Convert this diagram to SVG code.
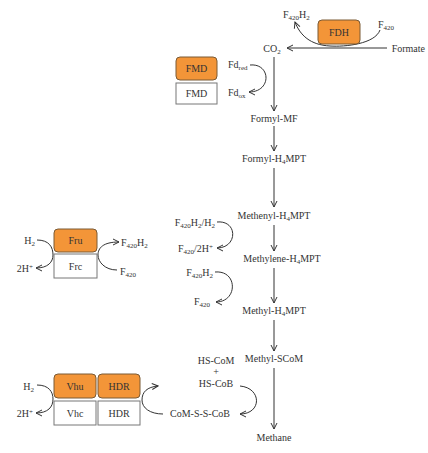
<svg xmlns="http://www.w3.org/2000/svg" width="428" height="453" viewBox="0 0 428 453">
<style>
text{font-family:"Liberation Serif","Times New Roman",serif;font-size:10px;fill:#333}
.s{font-size:7px}
.mid{text-anchor:middle}
.end{text-anchor:end}
.c{fill:none;stroke:#333;stroke-width:1}
.or{fill:#F39538;stroke:#7a5a35;stroke-width:1}
.wh{fill:#fff;stroke:#777;stroke-width:1}
</style>
<defs>
<marker id="a" viewBox="0 0 8 8" refX="7" refY="4" markerWidth="8" markerHeight="8" markerUnits="userSpaceOnUse" orient="auto">
<path d="M1,1 L7,4 L1,7" fill="none" stroke="#333" stroke-width="1"/>
</marker>
</defs>

<g id="connectors">
<line class="c" x1="274" y1="57" x2="274" y2="111" marker-end="url(#a)"/>
<line class="c" x1="274" y1="126" x2="274" y2="151" marker-end="url(#a)"/>
<line class="c" x1="274" y1="168" x2="274" y2="207" marker-end="url(#a)"/>
<line class="c" x1="274" y1="225" x2="274" y2="251" marker-end="url(#a)"/>
<line class="c" x1="274" y1="268" x2="274" y2="303" marker-end="url(#a)"/>
<line class="c" x1="274" y1="320" x2="274" y2="351" marker-end="url(#a)"/>
<line class="c" x1="274" y1="368" x2="274" y2="429" marker-end="url(#a)"/>
<line class="c" x1="387" y1="48" x2="287" y2="48" marker-end="url(#a)"/>
<path class="c" d="M380 30 C375 44 345 47 330 46 C310 45 300 35 295 22" marker-end="url(#a)"/>
<path class="c" d="M250 65 C271 63 272 92 249 92" marker-end="url(#a)"/>
<path class="c" d="M217 222 C238 220 238 248 217 248" marker-end="url(#a)"/>
<path class="c" d="M215 272 C238 270 238 302 216 302" marker-end="url(#a)"/>
<path class="c" d="M37 240 C49 240 53 247 53 255 C53 262 48 268 36 268" marker-end="url(#a)"/>
<path class="c" d="M117 270 C105 270 98 262 98 255 C98 248 103 242 119 242" marker-end="url(#a)"/>
<path class="c" d="M37 385 C49 385 53 392 53 399 C53 407 48 413 36 413" marker-end="url(#a)"/>
<path class="c" d="M163 414 C150 414 142 408 142 400 C142 392 147 387 158 386" marker-end="url(#a)"/>
<path class="c" d="M240 386 C262 388 262 414 240 414" marker-end="url(#a)"/>
</g>

<g id="FDH"><rect class="or" x="318" y="20" width="42" height="24" rx="4"/><text class="mid" x="339" y="36">FDH</text></g>
<g id="F420H2_top"><text x="283" y="18">F<tspan class="s" dy="2">420</tspan><tspan dy="-2">H</tspan><tspan class="s" dy="2">2</tspan></text></g>
<g id="F420_top"><text x="378" y="28">F<tspan class="s" dy="2">420</tspan></text></g>
<g id="CO2"><text class="mid" x="272" y="52">CO<tspan class="s" dy="2">2</tspan></text></g>
<g id="Formate"><text class="end" x="425" y="52">Formate</text></g>

<g id="FMD"><rect class="or" x="176" y="57" width="41" height="23" rx="4"/><text class="mid" x="196.5" y="72">FMD</text>
<rect class="wh" x="176" y="83" width="41" height="21"/><text class="mid" x="196.5" y="97">FMD</text></g>
<g id="Fdred"><text x="228" y="68">Fd<tspan class="s" dy="2">red</tspan></text></g>
<g id="Fdox"><text x="228" y="96">Fd<tspan class="s" dy="2">ox</tspan></text></g>

<g id="FormylMF"><text class="mid" x="274" y="122">Formyl-MF</text></g>
<g id="FormylH4MPT"><text class="mid" x="274" y="162">Formyl-H<tspan class="s" dy="2">4</tspan><tspan dy="-2">MPT</tspan></text></g>
<g id="MethenylH4MPT"><text class="mid" x="274" y="219">Methenyl-H<tspan class="s" dy="2">4</tspan><tspan dy="-2">MPT</tspan></text></g>
<g id="MethyleneH4MPT"><text class="mid" x="282" y="262">Methylene-H<tspan class="s" dy="2">4</tspan><tspan dy="-2">MPT</tspan></text></g>
<g id="MethylH4MPT"><text class="mid" x="274" y="314">Methyl-H<tspan class="s" dy="2">4</tspan><tspan dy="-2">MPT</tspan></text></g>
<g id="MethylSCoM"><text class="mid" x="274" y="362">Methyl-SCoM</text></g>
<g id="Methane"><text class="mid" x="274" y="441">Methane</text></g>

<g id="F420H2H2"><text class="end" x="215" y="226">F<tspan class="s" dy="2">420</tspan><tspan dy="-2">H</tspan><tspan class="s" dy="2">2</tspan><tspan dy="-2">/H</tspan><tspan class="s" dy="2">2</tspan></text></g>
<g id="F4202H"><text class="end" x="213" y="252">F<tspan class="s" dy="2">420</tspan><tspan dy="-2">/2H</tspan><tspan class="s" dy="-3">+</tspan></text></g>
<g id="F420H2_mid"><text class="end" x="213" y="276">F<tspan class="s" dy="2">420</tspan><tspan dy="-2">H</tspan><tspan class="s" dy="2">2</tspan></text></g>
<g id="F420_mid"><text class="end" x="210" y="305">F<tspan class="s" dy="2">420</tspan></text></g>

<g id="Fru"><rect class="or" x="54" y="229" width="43" height="23" rx="4"/><text class="mid" x="75.5" y="244">Fru</text>
<rect class="wh" x="54" y="254" width="43" height="24"/><text class="mid" x="75.5" y="270">Frc</text></g>
<g id="H2_fru"><text class="end" x="35" y="244">H<tspan class="s" dy="2">2</tspan></text></g>
<g id="2H_fru"><text class="end" x="33" y="272">2H<tspan class="s" dy="-3">+</tspan></text></g>
<g id="F420H2_fru"><text x="121" y="246">F<tspan class="s" dy="2">420</tspan><tspan dy="-2">H</tspan><tspan class="s" dy="2">2</tspan></text></g>
<g id="F420_fru"><text x="120" y="275">F<tspan class="s" dy="2">420</tspan></text></g>

<g id="Vhu"><rect class="or" x="54" y="374" width="42" height="24" rx="4"/><text class="mid" x="75" y="390">Vhu</text>
<rect class="wh" x="54" y="401" width="42" height="24"/><text class="mid" x="75" y="417">Vhc</text></g>
<g id="HDR"><rect class="or" x="98" y="374" width="42" height="24" rx="4"/><text class="mid" x="119" y="390">HDR</text>
<rect class="wh" x="98" y="401" width="42" height="24"/><text class="mid" x="119" y="417">HDR</text></g>
<g id="H2_vhu"><text class="end" x="34" y="390">H<tspan class="s" dy="2">2</tspan></text></g>
<g id="2H_vhu"><text class="end" x="33" y="417">2H<tspan class="s" dy="-3">+</tspan></text></g>

<g id="HSCoM"><text class="mid" x="216" y="364">HS-CoM</text><text class="mid" x="216" y="375">+</text><text class="mid" x="216" y="387">HS-CoB</text></g>
<g id="CoMSSCoB"><text class="mid" x="200" y="417">CoM-S-S-CoB</text></g>
</svg>
